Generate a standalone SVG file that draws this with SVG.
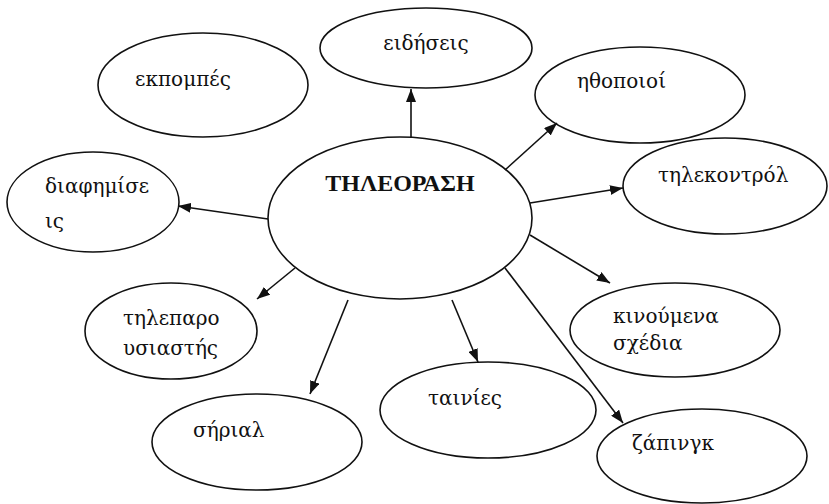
<svg xmlns="http://www.w3.org/2000/svg" width="829" height="504" viewBox="0 0 829 504">
<style>
.n{fill:none;stroke:#111;stroke-width:1.6}
.t{font-family:"DejaVu Serif","Liberation Serif",serif;font-size:20px;fill:#111}
.c{font-family:"Liberation Serif","Times New Roman",serif;font-size:24px;font-weight:bold;fill:#111}
.e{stroke:#111;stroke-width:1.6;fill:none;marker-end:url(#ah)}
</style>
<defs>
<marker id="ah" markerUnits="userSpaceOnUse" markerWidth="14" markerHeight="10" refX="13" refY="5" orient="auto">
<path d="M0,0 L13,5 L0,10 Z" fill="#111"/>
</marker>
</defs>
<rect width="829" height="504" fill="#fff"/>
<g id="connectors">
<line class="e" x1="411" y1="138" x2="411" y2="89"/>
<line class="e" x1="268" y1="219" x2="178" y2="206"/>
<line class="e" x1="505" y1="170" x2="557" y2="123"/>
<line class="e" x1="530" y1="203" x2="623" y2="188"/>
<line class="e" x1="530" y1="235" x2="610" y2="283"/>
<line class="e" x1="505" y1="268" x2="623" y2="423"/>
<line class="e" x1="452" y1="300" x2="478" y2="362"/>
<line class="e" x1="348" y1="300" x2="310" y2="394"/>
<line class="e" x1="295" y1="268" x2="257" y2="299"/>
</g>
<g id="center">
<ellipse class="n" cx="400" cy="218" rx="132" ry="81"/>
<text class="c" x="400" y="191" text-anchor="middle">ΤΗΛΕΟΡΑΣΗ</text>
</g>
<g id="eidiseis">
<ellipse class="n" cx="426" cy="48" rx="106" ry="40"/>
<text class="t" x="426" y="50" text-anchor="middle">ειδήσεις</text>
</g>
<g id="ekpompes">
<ellipse class="n" cx="203" cy="85" rx="105" ry="52"/>
<text class="t" x="183" y="86" text-anchor="middle">εκπομπές</text>
</g>
<g id="diafimiseis">
<ellipse class="n" cx="93" cy="202" rx="86" ry="50"/>
<text class="t" x="45" y="193">διαφημίσε</text>
<text class="t" x="45" y="228">ις</text>
</g>
<g id="ithopoioi">
<ellipse class="n" cx="640" cy="95" rx="105" ry="48"/>
<text class="t" x="577" y="88">ηθοποιοί</text>
</g>
<g id="tilekontrol">
<ellipse class="n" cx="725" cy="186" rx="102" ry="48"/>
<text class="t" x="658" y="182">τηλεκοντρόλ</text>
</g>
<g id="kinoumena">
<ellipse class="n" cx="675" cy="330" rx="105" ry="47"/>
<text class="t" x="613" y="323">κινούμενα</text>
<text class="t" x="613" y="350">σχέδια</text>
</g>
<g id="zapingk">
<ellipse class="n" cx="702" cy="456" rx="105" ry="47"/>
<text class="t" x="632" y="450">ζάπινγκ</text>
</g>
<g id="tainies">
<ellipse class="n" cx="488" cy="410" rx="108" ry="48"/>
<text class="t" x="428" y="405">ταινίες</text>
</g>
<g id="sirial">
<ellipse class="n" cx="257" cy="442" rx="105" ry="48"/>
<text class="t" x="193" y="437">σήριαλ</text>
</g>
<g id="tileparousiastis">
<ellipse class="n" cx="171" cy="331" rx="86" ry="48"/>
<text class="t" x="123" y="325">τηλεπαρο</text>
<text class="t" x="123" y="355">υσιαστής</text>
</g>
</svg>
